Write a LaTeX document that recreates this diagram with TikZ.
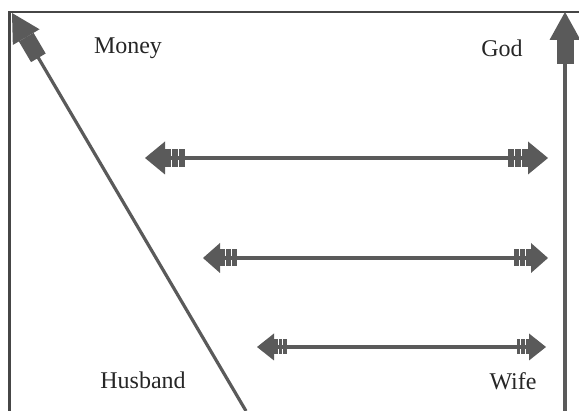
\documentclass[tikz,border=0pt]{standalone}
\usepackage{fontspec}
\setmainfont{Liberation Serif}
\usetikzlibrary{arrows.meta}
\definecolor{ink}{RGB}{90,90,90}
\definecolor{frame}{RGB}{70,70,70}

\begin{document}
\begin{tikzpicture}[x=1pt,y=1pt,
    rule/.style={draw=frame,line width=2.4pt},
    shaft/.style={draw=ink,line width=3.2pt},
    lbl/.style={font=\fontsize{24}{28}\selectfont,text=black!85,inner sep=0pt},
    upward/.style={-{Square[length=24pt,width=17pt,line width=0pt]Triangle[length=28pt,width=31pt,line width=0pt]}},
    twoway/.style n args={4}{{Triangle[length=#1,width=#2,line width=0pt]Square[length=#3,width=#4,sep=0pt,line width=0pt]Square[length=#3,width=#4,sep=1pt,line width=0pt]Square[length=#3,width=#4,sep=1pt,line width=0pt]Square[length=0.01pt,width=0.01pt,sep=3pt,line width=0pt]}-{Square[length=0.01pt,width=0.01pt,sep=3pt,line width=0pt]Square[length=#3,width=#4,sep=1pt,line width=0pt]Square[length=#3,width=#4,sep=1pt,line width=0pt]Square[length=#3,width=#4,sep=0pt,line width=0pt]Triangle[length=#1,width=#2,line width=0pt]}}]
  \useasboundingbox (0,0) rectangle (579,411);

  % corners of the frame
  \coordinate (fb) at (9.5,0);
  \coordinate (ft) at (9.5,399);
  \coordinate (fr) at (579,399);
  \draw[rule] (fb) -- (ft) -- (fr);

  \node[lbl] (money) at (128,363) {Money};
  \node[lbl] (god) at (502,363) {God};
  \node[lbl] (husband) at (143,31) {Husband};
  \node[lbl] (wife) at (513,30) {Wife};

  % the two long arrows
  \coordinate (m0) at (246,0);
  \coordinate (m1) at (12,398);
  \coordinate (g0) at (565,0);
  \coordinate (g1) at (565,399);
  \draw[shaft,upward] (m0) -- (m1);
  \draw[shaft,upward] (g0) -- (g1);

  % links between the two sides
  \coordinate (a1) at (145,253);
  \coordinate (b1) at (548,253);
  \coordinate (a2) at (203,153);
  \coordinate (b2) at (548,153);
  \coordinate (a3) at (257,64);
  \coordinate (b3) at (546,64);
  \draw[shaft,twoway={20pt}{33pt}{6pt}{18pt}] (a1) -- (b1);
  \draw[shaft,twoway={17pt}{30pt}{5pt}{17pt}] (a2) -- (b2);
  \draw[shaft,twoway={17pt}{27pt}{3.5pt}{15pt}] (a3) -- (b3);
\end{tikzpicture}
\end{document}
